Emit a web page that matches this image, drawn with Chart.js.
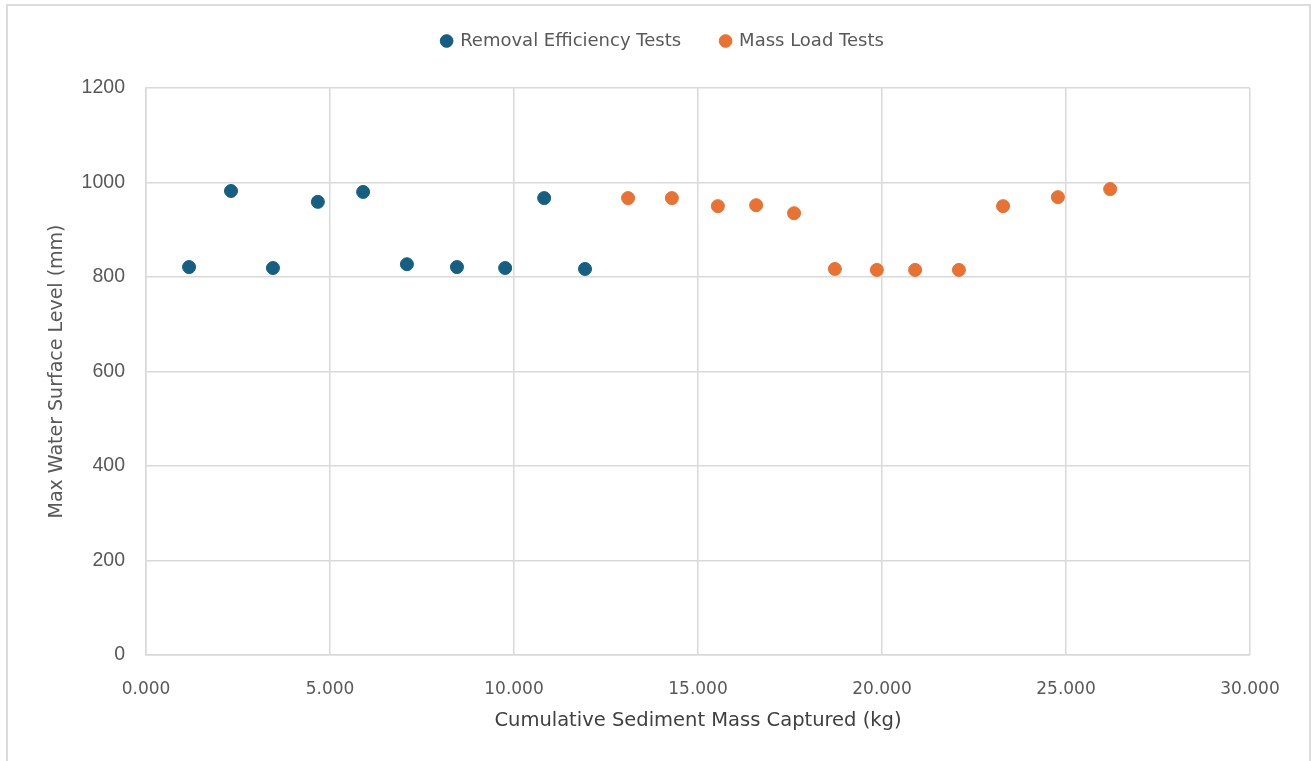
<!DOCTYPE html>
<html>
<head>
<meta charset="utf-8">
<script src="https://cdn.jsdelivr.net/npm/chart.js@4.4.1/dist/chart.umd.min.js"></script>
<style>
  html, body { margin: 0; padding: 0; background: #fff; overflow: hidden; }
  #frame { position: absolute; left: 6px; top: 4px; width: 1305px; height: 800px; border: 2px solid #dcdcdc; box-sizing: border-box; }
  #wrap { position: absolute; left: 0; top: 0; width: 1311px; height: 761px; }
</style>
</head>
<body>
<div id="frame"></div>
<div id="wrap"><canvas id="myChart"></canvas></div>
<script>
// Removal efficiency tests (cumulative mass kg, max water level mm)
const removalMass = [1.17, 2.31, 3.45, 4.67, 5.90, 7.09, 8.45, 9.76, 10.82, 11.93];
const removalLevel = [821, 982, 819, 959, 980, 827, 821, 819, 967, 817];
// Mass load tests
const massLoadMass = [13.10, 14.29, 15.54, 16.58, 17.61, 18.72, 19.86, 20.90, 22.09, 23.29, 24.78, 26.20];
const massLoadLevel = [967, 967, 950, 952, 935, 817, 815, 815, 815, 950, 969, 986];

const seriesNames = ['Removal Efficiency Tests', 'Mass Load Tests'];
const xTitle = 'Cumulative Sediment Mass Captured (kg)';
const yTitle = 'Max Water Surface Level (mm)';

function toPoints(xs, ys) {
    return xs.map((x, i) => ({ x: x, y: ys[i] }));
}

// Fixed legend height and a small nudge to the right
const legendPlace = {
    id: 'legendPlace',
    beforeInit(chart) {
        const origFit = chart.legend.fit;
        chart.legend.fit = function () {
            origFit.bind(chart.legend)();
            this.height = 96;
        };
    },
    afterLayout(chart) {
        chart.legend.left += 17;
        chart.legend.right += 17;
    }
};

function createChart() {
    const ctx = document.getElementById('myChart');
    new Chart(ctx, {
        type: 'scatter',
        data: {
            datasets: [{
                label: seriesNames[0],
                data: toPoints(removalMass, removalLevel),
                backgroundColor: '#156082',
                borderColor: '#156082',
                pointRadius: 6.5,
                pointHoverRadius: 6.5
            }, {
                label: seriesNames[1],
                data: toPoints(massLoadMass, massLoadLevel),
                backgroundColor: '#E97132',
                borderColor: '#E97132',
                pointRadius: 6.5,
                pointHoverRadius: 6.5
            }]
        },
        options: {
            responsive: true,
            maintainAspectRatio: false,
            animation: false,
            layout: { padding: { left: 42, right: 61, top: -8, bottom: 28 } },
            plugins: {
                tooltip: { enabled: false },
                legend: {
                    position: 'top',
                    labels: {
                        usePointStyle: true,
                        pointStyle: 'circle',
                        boxWidth: 9,
                        boxHeight: 9,
                        padding: 40,
                        color: '#595959',
                        font: { family: 'DejaVu Sans, sans-serif', size: 18 }
                    }
                }
            },
            scales: {
                x: {
                    type: 'linear',
                    min: 0,
                    max: 30,
                    ticks: {
                        stepSize: 5,
                        color: '#595959',
                        padding: 24,
                        font: { family: 'DejaVu Sans, sans-serif', size: 17 },
                        callback: v => v.toFixed(3)
                    },
                    grid: { color: '#d9d9d9', lineWidth: 1.5, drawTicks: false },
                    border: { color: '#d9d9d9', width: 1.5 },
                    title: {
                        display: true,
                        text: xTitle,
                        color: '#404040',
                        padding: { top: 0, bottom: 0 },
                        font: { family: 'DejaVu Sans, sans-serif', size: 19.5 }
                    },
                    afterFit: s => { s.height = 78; }
                },
                y: {
                    min: 0,
                    max: 1200,
                    ticks: {
                        stepSize: 200,
                        color: '#595959',
                        padding: 21,
                        font: { family: 'Liberation Sans, Arial, sans-serif', size: 19.5 },
                        callback: v => String(v)
                    },
                    grid: { color: '#d9d9d9', lineWidth: 1.5, drawTicks: false },
                    border: { color: '#d9d9d9', width: 1.5 },
                    title: {
                        display: true,
                        text: yTitle,
                        color: '#595959',
                        font: { family: 'DejaVu Sans, sans-serif', size: 19 }
                    },
                    afterFit: s => { s.width = 104; }
                }
            }
        },
        plugins: [legendPlace]
    });
}

document.addEventListener("DOMContentLoaded", function () {
    createChart();
});
</script>
</body>
</html>
